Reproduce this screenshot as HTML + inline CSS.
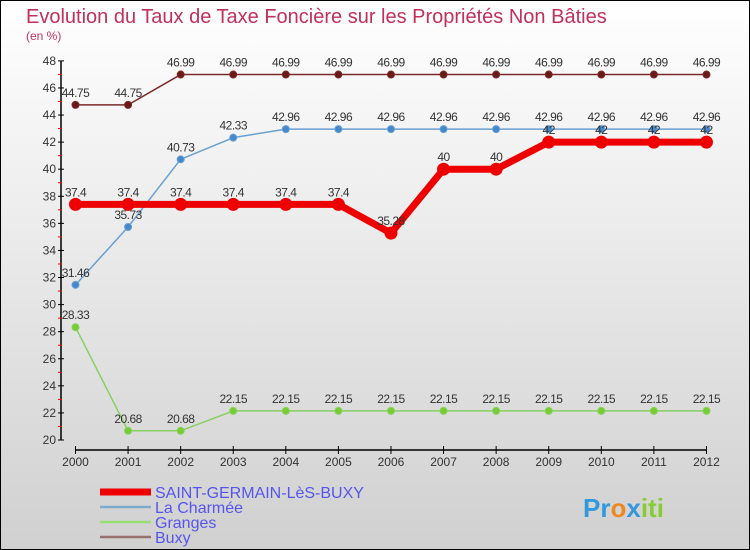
<!DOCTYPE html>
<html><head><meta charset="utf-8"><style>
body{margin:0}
#c{width:750px;height:550px;position:relative;box-sizing:border-box;border:1px solid #000;background:linear-gradient(#ffffff,#d0d0d0);font-family:"Liberation Sans",sans-serif;overflow:hidden}
</style></head><body>
<div id="c">
<svg id="s" width="750" height="550" style="position:absolute;left:-1px;top:-1px">
<text x="26" y="23" font-size="20" fill="#c0305a">Evolution du Taux de Taxe Foncière sur les Propriétés Non Bâties</text>
<text x="26" y="40" font-size="12" fill="#c0305a">(en %)</text>
</svg>
</div>
<script>
const years=[2000,2001,2002,2003,2004,2005,2006,2007,2008,2009,2010,2011,2012];
const sgb=[37.4,37.4,37.4,37.4,37.4,37.4,35.28,40,40,42,42,42,42];
const charmee=[31.46,35.73,40.73,42.33,42.96,42.96,42.96,42.96,42.96,42.96,42.96,42.96,42.96];
const granges=[28.33,20.68,20.68,22.15,22.15,22.15,22.15,22.15,22.15,22.15,22.15,22.15,22.15];
const buxy=[44.75,44.75,46.99,46.99,46.99,46.99,46.99,46.99,46.99,46.99,46.99,46.99,46.99];
const yTicks=[20,22,24,26,28,30,32,34,36,38,40,42,44,46,48];
const s=document.getElementById('s');const NS='http://www.w3.org/2000/svg';
const X=i=>75.5+i*52.58, Y=v=>440-(v-20)*13.54;
function mk(t,a,p){const e=document.createElementNS(NS,t);for(const k in a)e.setAttribute(k,a[k]);(p||s).appendChild(e);return e;}
function fmt(v){return String(v).replace('.',',').replace(',', '.');}
// axes
let ax=mk('line',{x1:61,y1:Y(48),x2:61,y2:Y(20),stroke:'#000','stroke-width':1.5});

let xa=mk('line',{x1:X(0),y1:450,x2:X(12),y2:450,stroke:'#000','stroke-width':1.5});

yTicks.forEach(v=>{mk('line',{x1:58,y1:Y(v),x2:64,y2:Y(v),stroke:'#000'});
 if(v<48)mk('line',{x1:58,y1:Y(v+1),x2:62,y2:Y(v+1),stroke:'#f00'});
 const t=mk('text',{x:56,y:Y(v)+4,'font-size':12,fill:'#333','text-anchor':'end'});t.textContent=v;
 });
years.forEach((y,i)=>{mk('line',{x1:X(i),y1:446,x2:X(i),y2:454,stroke:'#000'});
 const t=mk('text',{x:X(i),y:466,'font-size':12,fill:'#333','text-anchor':'middle'});t.textContent=y;
 });
function series(d,col,w,r,name,dot){
 const g=mk('g',{});
 mk('polyline',{points:d.map((v,i)=>X(i)+','+Y(v)).join(' '),fill:'none',stroke:col,'stroke-width':w,'stroke-linejoin':'round'},g);
 d.forEach((v,i)=>{const c=mk('circle',{cx:X(i),cy:Y(v),r:r,fill:dot,stroke:col,'stroke-width':1},g);
  
  const t=mk('text',{x:X(i),y:Y(v)-8,'font-size':12,fill:'#333','text-anchor':'middle','letter-spacing':'-0.5'},g);t.textContent=String(v).replace('.','.');
  });
}
series(granges,'#88d060',1.5,3.5,'series-granges','#77cc33');
series(charmee,'#6aa0d0',1.5,3.5,'series-la-charmee','#4488cc');
series(buxy,'#7a2a2a',1.5,3.5,'series-buxy','#6a1a1a');
series(sgb,'#ee0000',7,6,'series-saint-germain','#ee0000');
const leg=[['SAINT-GERMAIN-LèS-BUXY','#ee0000',7],['La Charmée','#80aacc',2.5],['Granges','#99dd77',2.5],['Buxy','#997070',2.5]];
leg.forEach((l,i)=>{const y=492+i*15;
 const ln=mk('line',{x1:100,y1:y,x2:151,y2:y,stroke:l[1],'stroke-width':l[2]});
 
 const t=mk('text',{x:155,y:y+6,'font-size':16,fill:'#5555ee'});t.textContent=l[0];
 });
const lg=mk('text',{x:583,y:517,'font-size':26,'font-weight':'bold',fill:'#ee8822'});
lg.innerHTML='<tspan fill="#3399dd">Pr</tspan><tspan fill="#ee8822">o</tspan><tspan fill="#3399dd">x</tspan><tspan fill="#88cc33">iti</tspan>';

</script>
</body></html>
